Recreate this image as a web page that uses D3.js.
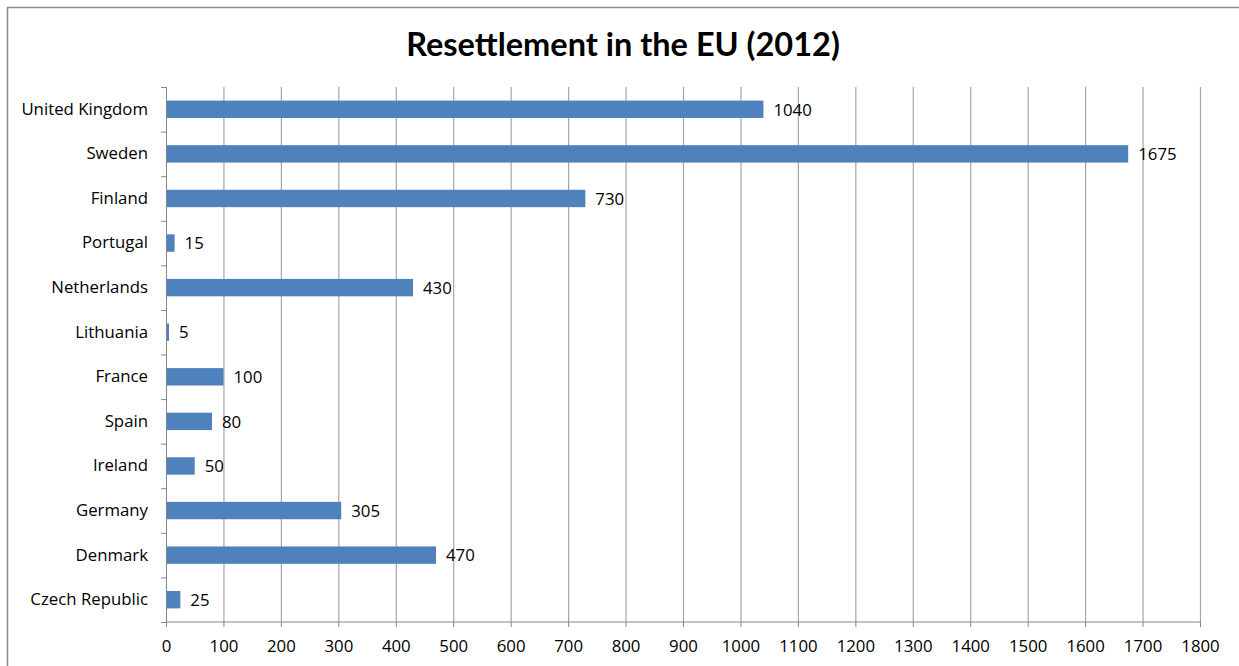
<!DOCTYPE html>
<html>
<head>
<meta charset="utf-8">
<script src="https://cdn.jsdelivr.net/npm/d3@7"></script>
<style>
  body { margin: 0; background: #fff; }
  svg { display: block; }
</style>
</head>
<body>
<div id="chartContainer"></div>
<script>
// Chart data
const countries = ["United Kingdom", "Sweden", "Finland", "Portugal", "Netherlands", "Lithuania",
    "France", "Spain", "Ireland", "Germany", "Denmark", "Czech Republic"];
const resettled = [1040, 1675, 730, 15, 430, 5, 100, 80, 50, 305, 470, 25];
const xTicks = [0, 100, 200, 300, 400, 500, 600, 700, 800, 900, 1000, 1100, 1200, 1300, 1400, 1500, 1600, 1700, 1800];

const svgWidth = 1239;
const svgHeight = 666;
const margin = { top: 87, right: 39, bottom: 44, left: 166 };
const chartWidth = svgWidth - margin.left - margin.right;
const chartHeight = svgHeight - margin.top - margin.bottom;
const font = "'Open Sans', sans-serif";
const fontSize = 16.8;

const svg = d3.select("#chartContainer")
    .append("svg")
    .attr("width", svgWidth)
    .attr("height", svgHeight);

// outer frame
svg.append("rect")
    .attr("x", 7.5).attr("y", 7.5)
    .attr("width", svgWidth + 10).attr("height", svgHeight + 10)
    .attr("fill", "none")
    .attr("stroke", "#888")
    .attr("stroke-width", 1.5);

svg.append("text")
    .attr("x", 623)
    .attr("y", 56)
    .attr("text-anchor", "middle")
    .attr("font-family", "Lato, sans-serif")
    .attr("font-weight", "bold")
    .attr("font-size", 32.5)
    .attr("fill", "#000")
    .text("Resettlement in the EU (2012)");

const chart = svg.append("g")
    .attr("transform", `translate(${margin.left}, ${margin.top})`);

const xScale = d3.scaleLinear()
    .domain([0, 1800])
    .range([0, chartWidth]);

const yScale = d3.scaleBand()
    .domain(countries)
    .range([0, chartHeight])
    .paddingInner(0.61)
    .paddingOuter(0.305);

const bandScale = d3.scaleBand()
    .domain(countries)
    .range([0, chartHeight]);

// gridlines
chart.append("g")
    .selectAll("line")
    .data(xTicks.slice(1))
    .enter()
    .append("line")
    .attr("x1", d => xScale(d) + 0.5)
    .attr("x2", d => xScale(d) + 0.5)
    .attr("y1", 0)
    .attr("y2", chartHeight)
    .attr("stroke", "#a6a6a6")
    .attr("stroke-width", 1.2);

// x axis
const xAxis = d3.axisBottom(xScale)
    .tickValues(xTicks)
    .tickFormat(d3.format("d"))
    .tickSize(5)
    .tickPadding(13);

const xg = chart.append("g")
    .attr("transform", `translate(0, ${chartHeight})`)
    .call(xAxis);
xg.select(".domain").attr("stroke", "#868686").attr("d", `M0.5,0H${chartWidth + 0.5}`);
xg.selectAll(".tick line").attr("stroke", "#868686");
xg.selectAll("text")
    .attr("font-family", font)
    .attr("font-size", fontSize)
    .attr("fill", "#000");

// y axis
const yAxis = d3.axisLeft(bandScale)
    .tickSize(0)
    .tickPadding(18);

const yg = chart.append("g").call(yAxis);
yg.select(".domain").attr("stroke", "#868686").attr("d", `M0.5,0V${chartHeight}`);
yg.selectAll("text")
    .attr("font-family", font)
    .attr("font-size", fontSize)
    .attr("fill", "#000");

// y tick marks at band boundaries
chart.append("g")
    .selectAll("line")
    .data(d3.range(countries.length + 1))
    .enter()
    .append("line")
    .attr("x1", -5)
    .attr("x2", 0)
    .attr("y1", i => i * bandScale.step() + 0.5)
    .attr("y2", i => i * bandScale.step() + 0.5)
    .attr("stroke", "#868686");

// bars
const bars = chart.selectAll(".bar")
    .data(countries.map((c, i) => ({ country: c, value: resettled[i] })))
    .enter()
    .append("g")
    .attr("class", "bar");

bars.append("rect")
    .attr("x", 1)
    .attr("y", d => yScale(d.country))
    .attr("height", yScale.bandwidth())
    .attr("width", d => Math.max(xScale(d.value) - 1, 2))
    .attr("fill", "#4f81bd");

bars.append("text")
    .attr("x", d => Math.max(xScale(d.value), 3) + 10)
    .attr("y", d => yScale(d.country) + yScale.bandwidth() / 2)
    .attr("dy", ".37em")
    .attr("font-family", font)
    .attr("font-size", fontSize)
    .attr("fill", "#000")
    .text(d => d.value);
</script>
</body>
</html>
